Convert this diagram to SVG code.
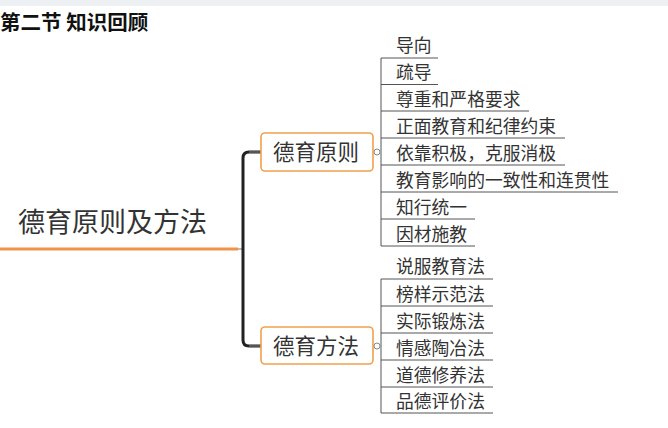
<svg xmlns="http://www.w3.org/2000/svg" width="668" height="428" viewBox="0 0 668 428">
<style>
text{font-family:"Noto Sans CJK SC","Noto Sans",sans-serif;fill:#333}
.leaf{font-size:17.8px}
.node{fill:#fff;stroke:#f0a04b;stroke-width:1.6}
.mid{font-size:21.5px}
.ul{stroke:#555;stroke-width:1;fill:none}
.bar{stroke:#555;stroke-width:1;fill:none}
.dot{fill:#fff;stroke:#888;stroke-width:1}
</style>
<rect width="668" height="428" fill="#fff"/>
<line x1="0" y1="3" x2="668" y2="3" stroke="#eef1f3" stroke-width="6"/>
<text x="0" y="30" style="font-size:20.5px;font-weight:bold;fill:#111">第二节 知识回顾</text>
<g id="connectors">
<line x1="0" y1="249" x2="238" y2="249" stroke="#f0944a" stroke-width="3"/>
<line x1="238" y1="249" x2="243" y2="249" stroke="#777" stroke-width="1"/>
<path d="M261 152 H249 Q243 152 243 158 V340 Q243 346 249 346 H261" fill="none" stroke="#222" stroke-width="3"/>
<path d="M261 152 H249 M261 346 H249" stroke="#888" stroke-width="1.2"/>
<line class="bar" x1="381" y1="58" x2="381" y2="246"/>
<line class="bar" x1="381" y1="279" x2="381" y2="413"/>
</g>
<g id="root"><text x="18" y="232" style="font-size:27px">德育原则及方法</text></g>
<g id="n-yuanze">
<rect class="node" x="261" y="133" width="112" height="38" rx="4"/>
<text class="mid" x="316" y="160" text-anchor="middle">德育原则</text>
<circle class="dot" cx="377" cy="152" r="3"/>
</g>
<g id="n-fangfa">
<rect class="node" x="261" y="327" width="112" height="37" rx="4"/>
<text class="mid" x="316" y="354" text-anchor="middle">德育方法</text>
<circle class="dot" cx="377" cy="346" r="3"/>
</g>
<g id="leaf-1"><text class="leaf" x="396" y="52">导向</text><line class="ul" x1="381" y1="58" x2="438" y2="58"/></g>
<g id="leaf-2"><text class="leaf" x="396" y="79">疏导</text><line class="ul" x1="381" y1="84.5" x2="438" y2="84.5"/></g>
<g id="leaf-3"><text class="leaf" x="396" y="106">尊重和严格要求</text><line class="ul" x1="381" y1="111" x2="529" y2="111"/></g>
<g id="leaf-4"><text class="leaf" x="396" y="133">正面教育和纪律约束</text><line class="ul" x1="381" y1="138" x2="565" y2="138"/></g>
<g id="leaf-5"><text class="leaf" x="396" y="160">依靠积极，克服消极</text><line class="ul" x1="381" y1="165" x2="565" y2="165"/></g>
<g id="leaf-6"><text class="leaf" x="396" y="187">教育影响的一致性和连贯性</text><line class="ul" x1="381" y1="192" x2="618" y2="192"/></g>
<g id="leaf-7"><text class="leaf" x="396" y="214">知行统一</text><line class="ul" x1="381" y1="219" x2="475" y2="219"/></g>
<g id="leaf-8"><text class="leaf" x="396" y="241">因材施教</text><line class="ul" x1="381" y1="246" x2="475" y2="246"/></g>
<g id="leaf-9"><text class="leaf" x="396" y="273">说服教育法</text><line class="ul" x1="381" y1="279" x2="493" y2="279"/></g>
<g id="leaf-10"><text class="leaf" x="396" y="301">榜样示范法</text><line class="ul" x1="381" y1="306" x2="493" y2="306"/></g>
<g id="leaf-11"><text class="leaf" x="396" y="328">实际锻炼法</text><line class="ul" x1="381" y1="333" x2="493" y2="333"/></g>
<g id="leaf-12"><text class="leaf" x="396" y="355">情感陶冶法</text><line class="ul" x1="381" y1="360" x2="493" y2="360"/></g>
<g id="leaf-13"><text class="leaf" x="396" y="382">道德修养法</text><line class="ul" x1="381" y1="387" x2="493" y2="387"/></g>
<g id="leaf-14"><text class="leaf" x="396" y="408">品德评价法</text><line class="ul" x1="381" y1="413" x2="493" y2="413"/></g>
</svg>
